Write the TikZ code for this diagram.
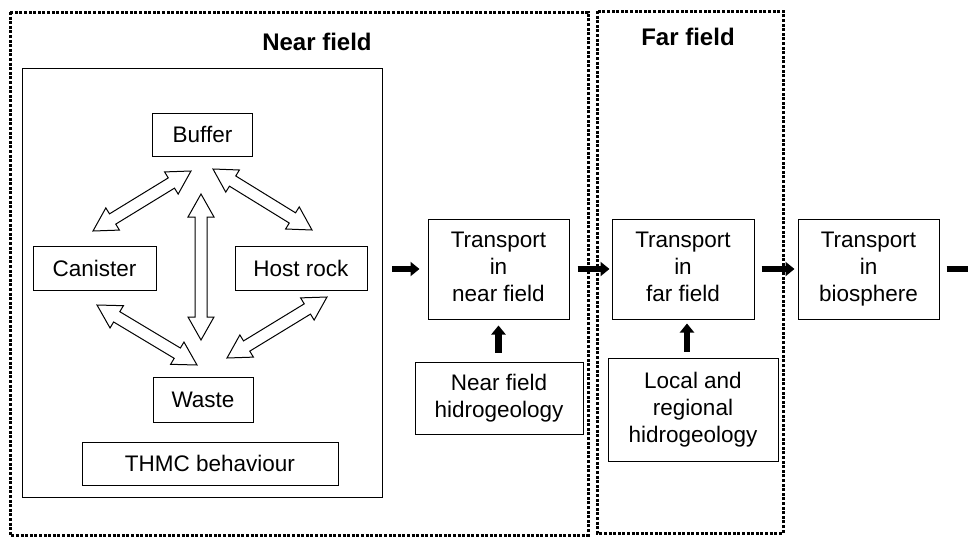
\documentclass[tikz,border=0pt]{standalone}
\usepackage{fontspec}
\setmainfont{Liberation Sans}
\usetikzlibrary{calc, arrows.meta}

\tikzset{
    box/.style={draw, line width=1pt, align=center, inner sep=0pt},
    fieldbox/.style={line width=3pt, dash pattern=on 3pt off 1.6pt},
    title/.style={font=\fontsize{24}{28}\selectfont\bfseries},
    hollow/.style={draw, fill=white, line width=1pt, line join=miter},
    flow/.style={-{Triangle[length=9pt, width=14pt]}, line width=6.5pt},
}

% two-headed hollow arrow between two named points
\newcommand{\twoway}[2]{%
    \draw[hollow] (#1)
        -- ($(#1)!23pt!(#2)!13pt!90:(#2)$)
        -- ($(#1)!23pt!(#2)!6pt!90:(#2)$)
        -- ($(#2)!23pt!(#1)!6pt!-90:(#1)$)
        -- ($(#2)!23pt!(#1)!13pt!-90:(#1)$)
        -- (#2)
        -- ($(#2)!23pt!(#1)!13pt!90:(#1)$)
        -- ($(#2)!23pt!(#1)!6pt!90:(#1)$)
        -- ($(#1)!23pt!(#2)!6pt!-90:(#2)$)
        -- ($(#1)!23pt!(#2)!13pt!-90:(#2)$)
        -- cycle;}

\begin{document}
\begin{tikzpicture}[x=1pt, y=-1pt, font=\fontsize{22.5}{26.7}\selectfont]
    \clip (0,0) rectangle (968,538);
    \fill[white] (0,0) rectangle (968,538);

    % Fields
    \draw[fieldbox] (10,12) rectangle (588,535);
    \draw[fieldbox] (597,11) rectangle (783,533);
    \node[title] (nearlabel) at (317,42) {Near field};
    \node[title] (farlabel) at (688,37) {Far field};

    % Near field components
    \draw[line width=1pt] (22,68) rectangle (382,497);
    \node[box, minimum width=100pt, minimum height=43pt] (buffer) at (202.5,134.5) {Buffer};
    \node[box, minimum width=123pt, minimum height=44pt] (canister) at (94.5,268) {Canister};
    \node[box, minimum width=132pt, minimum height=44pt] (hostrock) at (301,268) {Host rock};
    \node[box, minimum width=100pt, minimum height=45pt] (waste) at (203,399.5) {Waste};
    \node[box, minimum width=256pt, minimum height=43pt] (thmc) at (210,463.5) {THMC behaviour};

    % Couplings
    \coordinate (cb1) at (93,231);  \coordinate (cb2) at (191,171);
    \coordinate (bh1) at (213,169); \coordinate (bh2) at (312,230);
    \coordinate (bw1) at (201,194); \coordinate (bw2) at (201,340);
    \coordinate (cw1) at (97,305);  \coordinate (cw2) at (197,365);
    \coordinate (hw1) at (327,297); \coordinate (hw2) at (227,358);
    \twoway{cb1}{cb2}
    \twoway{bh1}{bh2}
    \twoway{bw1}{bw2}
    \twoway{cw1}{cw2}
    \twoway{hw1}{hw2}

    % Transport chain
    \node[box, minimum width=141pt, minimum height=100pt] (tnear) at (498.5,269) {Transport\\in\\near field\vphantom{p}};
    \node[box, minimum width=168pt, minimum height=72pt] (nhydro) at (499,398) {Near field\\hidrogeology};
    \node[box, minimum width=142pt, minimum height=100pt] (tfar) at (683,269) {Transport\\in\\far field\vphantom{p}};
    \node[box, minimum width=170pt, minimum height=103pt] (lhydro) at (693,409.5) {Local and\\regional\\hidrogeology};
    \node[box, minimum width=141pt, minimum height=100pt] (tbio) at (868.5,269) {Transport\\in\\biosphere};

    \coordinate (source) at (392,269);
    \coordinate (exit) at (985,269);
    \draw[flow] (source) -- ([xshift=-8pt]tnear.west);
    \draw[flow] ([xshift=8pt]tnear.east) -- ([xshift=-2pt]tfar.west);
    \draw[flow] ([xshift=7pt]tfar.east) -- ([xshift=-3pt]tbio.west);
    \draw[flow] ([xshift=7pt]tbio.east) -- (exit);
    \draw[flow] ($(nhydro.north -| tnear.south)+(0,-9)$) -- ([yshift=-6pt]tnear.south);
    \draw[flow] ($(lhydro.north -| tfar.south)+(4,-6)$) -- ($(tfar.south)+(4,4)$);
\end{tikzpicture}
\end{document}
